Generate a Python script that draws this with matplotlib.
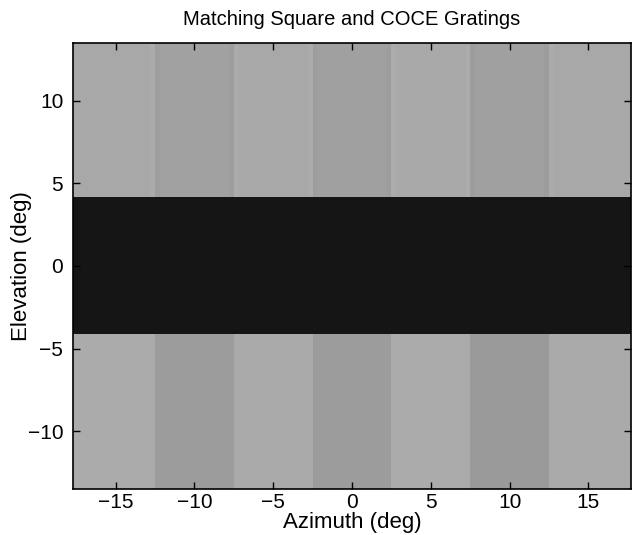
import numpy as np
import matplotlib.pyplot as plt

plt.rcParams['font.family'] = ['Liberation Sans', 'DejaVu Sans']

# stripe boundaries (deg azimuth) and band boundaries (deg elevation)
x_edges = [-17.7, -12.5, -7.5, -2.5, 2.5, 7.5, 12.5, 17.7]
y_edges = [-13.5, -4.15, 4.15, 13.5]

# gray levels per stripe (0 = black, 1 = white)
bottom_gray = [0.670, 0.610, 0.665, 0.610, 0.670, 0.605, 0.665]   # square grating
middle_gray = [0.085, 0.085, 0.085, 0.085, 0.085, 0.085, 0.085]   # dark mask
top_gray = [0.660, 0.630, 0.660, 0.628, 0.662, 0.628, 0.660]      # COCE grating

# COCE edge highlights in top band: boundary, gray just left, gray just right
coce_edges = [-12.5, -7.5, -2.5, 2.5, 7.5, 12.5]
coce_left = [0.70, 0.60, 0.70, 0.60, 0.70, 0.60]
coce_right = [0.60, 0.70, 0.60, 0.70, 0.60, 0.70]
edge_w = 0.3

fig = plt.figure(figsize=(6.32, 5.35), dpi=100)
ax = fig.add_axes([0.1155, 0.086, 0.883, 0.834])

vals = np.array([bottom_gray, middle_gray, top_gray])
ax.pcolormesh(x_edges, y_edges, vals, cmap='gray', vmin=0, vmax=1, shading='flat')

for xb, gl, gr in zip(coce_edges, coce_left, coce_right):
    ax.fill_between([xb - edge_w, xb], y_edges[2], y_edges[3], color=str(gl), lw=0, alpha=0.3)
    ax.fill_between([xb, xb + edge_w], y_edges[2], y_edges[3], color=str(gr), lw=0, alpha=0.3)

ax.set_xlim(x_edges[0], x_edges[-1])
ax.set_ylim(y_edges[0], y_edges[-1])
ax.set_xticks([-15, -10, -5, 0, 5, 10, 15])
ax.set_yticks([-10, -5, 0, 5, 10])
ax.set_xticklabels(['\u221215', '\u221210', '\u22125', '0', '5', '10', '15'])
ax.set_yticklabels(['\u221210', '\u22125', '0', '5', '10'])
ax.tick_params(direction='in', top=True, right=True, length=5, width=1, labelsize=15, colors='black')
ax.tick_params(axis='x', pad=3)
ax.tick_params(axis='y', pad=7)
for s in ax.spines.values():
    s.set_linewidth(1.2)

ax.set_xlabel('Azimuth (deg)', fontsize=16, labelpad=0)
ax.set_ylabel('Elevation (deg)', fontsize=16, labelpad=-3)
ax.set_title('Matching Square and COCE Gratings', fontsize=14.5, pad=13)

fig.savefig('out.png', dpi=100)
